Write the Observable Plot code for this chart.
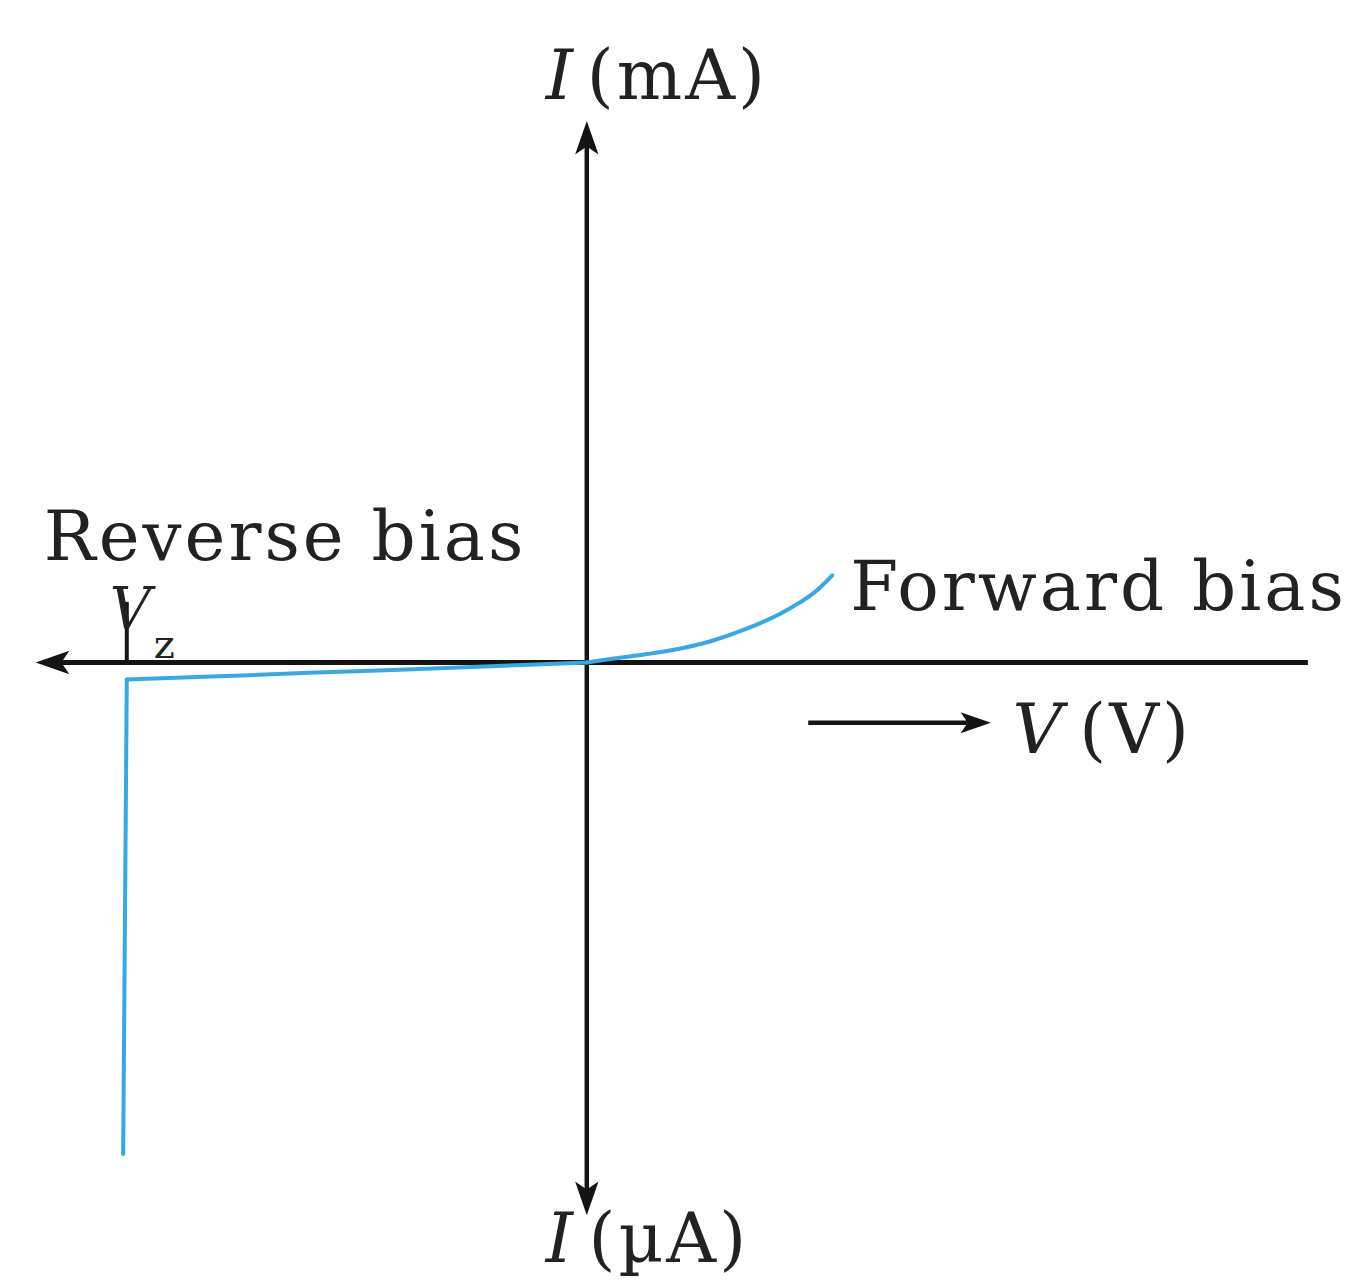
<!DOCTYPE html>
<html>
<head>
<meta charset="utf-8">
<script src="https://cdn.jsdelivr.net/npm/d3@7"></script>
<script src="https://cdn.jsdelivr.net/npm/@observablehq/plot@0.6"></script>
<style>
  html, body { margin: 0; padding: 0; background: #fff; }
  #chart svg { display: block; }
</style>
</head>
<body>
<div id="chart"></div>
<script>
// Zener diode I–V characteristic (schematic units: volts on x, current on y)
const zenerVoltage = -5.1;

// Breakdown branch: nearly vertical drop at V = Vz
const breakdownV = [-5.14, -5.1];
const breakdownI = [-4.9, -0.17];

// Reverse leakage branch: small negative current up to the origin
const reverseV = [-5.1, -4.0, -3.0, -2.0, -1.0, 0.0];
const reverseI = [-0.17, -0.135, -0.10, -0.068, -0.034, 0.0];

// Forward branch: exponential-like rise
const forwardV = [0.0, 0.30, 0.67, 1.04, 1.40, 1.78, 2.15, 2.51, 2.72];
const forwardI = [0.0, 0.04, 0.085, 0.14, 0.22, 0.34, 0.49, 0.69, 0.87];

// Axis extents (arrow tips)
const axisLeft = -6.11, axisRight = 8.0;
const axisTop = 5.40, axisBottom = -5.51;

// Text labels
const labels = [
  {x: -0.12, y: 5.62, text: "I", italic: true, anchor: "end"},
  {x: 0.0, y: 5.62, text: "(mA)", italic: false, anchor: "start"},
  {x: -0.12, y: -5.98, text: "I", italic: true, anchor: "end"},
  {x: 0.02, y: -5.98, text: "(\u00b5A)", italic: false, anchor: "start"},
  {x: -6.02, y: 1.02, text: "Reverse bias", italic: false, anchor: "start"},
  {x: 2.92, y: 0.52, text: "Forward bias", italic: false, anchor: "start"},
  {x: 4.72, y: -0.90, text: "V", italic: true, anchor: "start"},
  {x: 5.46, y: -0.90, text: "(V)", italic: false, anchor: "start"}
];
const zenerLabel = [{x: -5.29, y: 0.34, text: "V"}];
const subscript = [{x: -4.80, y: 0.05, text: "z"}];

// V-direction arrow below the axis
const vArrow = {x1: 2.46, x2: 4.30, tip: 4.48, y: -0.60};

const zip = (xs, ys) => xs.map((x, i) => ({x, y: ys[i]}));

// Filled arrowheads with the tip at the symbol origin
function arrowHead(dx, dy) {
  return {
    draw(context, size) {
      const s = Math.sqrt(size);
      const L = 1.9 * s, W = 0.66 * s, N = 1.45 * s;
      // local frame: tip at 0, pointing along (dx, dy)
      const px = -dy, py = dx;
      const pt = (a, b) => [a * dx + b * px, a * dy + b * py];
      context.moveTo(...pt(0, 0));
      context.lineTo(...pt(-L, W));
      context.lineTo(...pt(-N, 0));
      context.lineTo(...pt(-L, -W));
      context.closePath();
    }
  };
}

const ink = "#141414";
const textInk = "#222";
const curveColor = "#3aa8df";
const serif = "DejaVu Serif";
const labelSize = 69;

const chart = Plot.plot({
  width: 1353,
  height: 1284,
  margin: 0,
  style: {letterSpacing: "3px"},
  x: {domain: [-6.5, 8.5], axis: null},
  y: {domain: [-6.2, 6.6], axis: null},
  marks: [
    // coordinate axes
    Plot.ruleY([0], {x1: axisLeft + 0.2, x2: axisRight, stroke: ink, strokeWidth: 5}),
    Plot.ruleX([0], {y1: axisBottom + 0.2, y2: axisTop - 0.2, stroke: ink, strokeWidth: 4.5}),
    Plot.dot([{x: 0, y: axisTop}], {x: "x", y: "y", r: 10, symbol: arrowHead(0, -1), fill: ink, stroke: null}),
    Plot.dot([{x: 0, y: axisBottom}], {x: "x", y: "y", r: 10, symbol: arrowHead(0, 1), fill: ink, stroke: null}),
    Plot.dot([{x: axisLeft, y: 0}], {x: "x", y: "y", r: 10, symbol: arrowHead(-1, 0), fill: ink, stroke: null}),
    // Vz tick
    Plot.ruleX([zenerVoltage], {y1: 0, y2: 0.6, stroke: ink, strokeWidth: 4}),
    // V direction arrow
    Plot.ruleY([vArrow.y], {x1: vArrow.x1, x2: vArrow.x2, stroke: ink, strokeWidth: 4.5}),
    Plot.dot([{x: vArrow.tip, y: vArrow.y}], {x: "x", y: "y", r: 9, symbol: arrowHead(1, 0), fill: ink, stroke: null}),
    // characteristic curve
    Plot.line(zip(breakdownV, breakdownI), {x: "x", y: "y", stroke: curveColor, strokeWidth: 4}),
    Plot.line(zip(reverseV, reverseI), {x: "x", y: "y", stroke: curveColor, strokeWidth: 4, curve: "monotone-x"}),
    Plot.line(zip(forwardV, forwardI), {x: "x", y: "y", stroke: curveColor, strokeWidth: 4, curve: "catmull-rom"}),
    // labels
    Plot.text(labels.filter(d => d.italic && d.anchor === "end"), {x: "x", y: "y", text: "text", textAnchor: "end", lineAnchor: "bottom", fontSize: labelSize, fontStyle: "italic", fontFamily: serif, fill: textInk}),
    Plot.text(labels.filter(d => d.italic && d.anchor === "start"), {x: "x", y: "y", text: "text", textAnchor: "start", lineAnchor: "bottom", fontSize: labelSize, fontStyle: "italic", fontFamily: serif, fill: textInk}),
    Plot.text(labels.filter(d => !d.italic), {x: "x", y: "y", text: "text", textAnchor: "start", lineAnchor: "bottom", fontSize: labelSize, fontFamily: serif, fill: textInk}),
    Plot.text(zenerLabel, {x: "x", y: "y", text: "text", textAnchor: "start", lineAnchor: "bottom", fontSize: 57, fontStyle: "italic", fontFamily: serif, fill: textInk}),
    Plot.text(subscript, {x: "x", y: "y", text: "text", textAnchor: "start", lineAnchor: "bottom", fontSize: 40, fontFamily: serif, fill: textInk})
  ]
});

document.getElementById("chart").appendChild(chart);
</script>
</body>
</html>
